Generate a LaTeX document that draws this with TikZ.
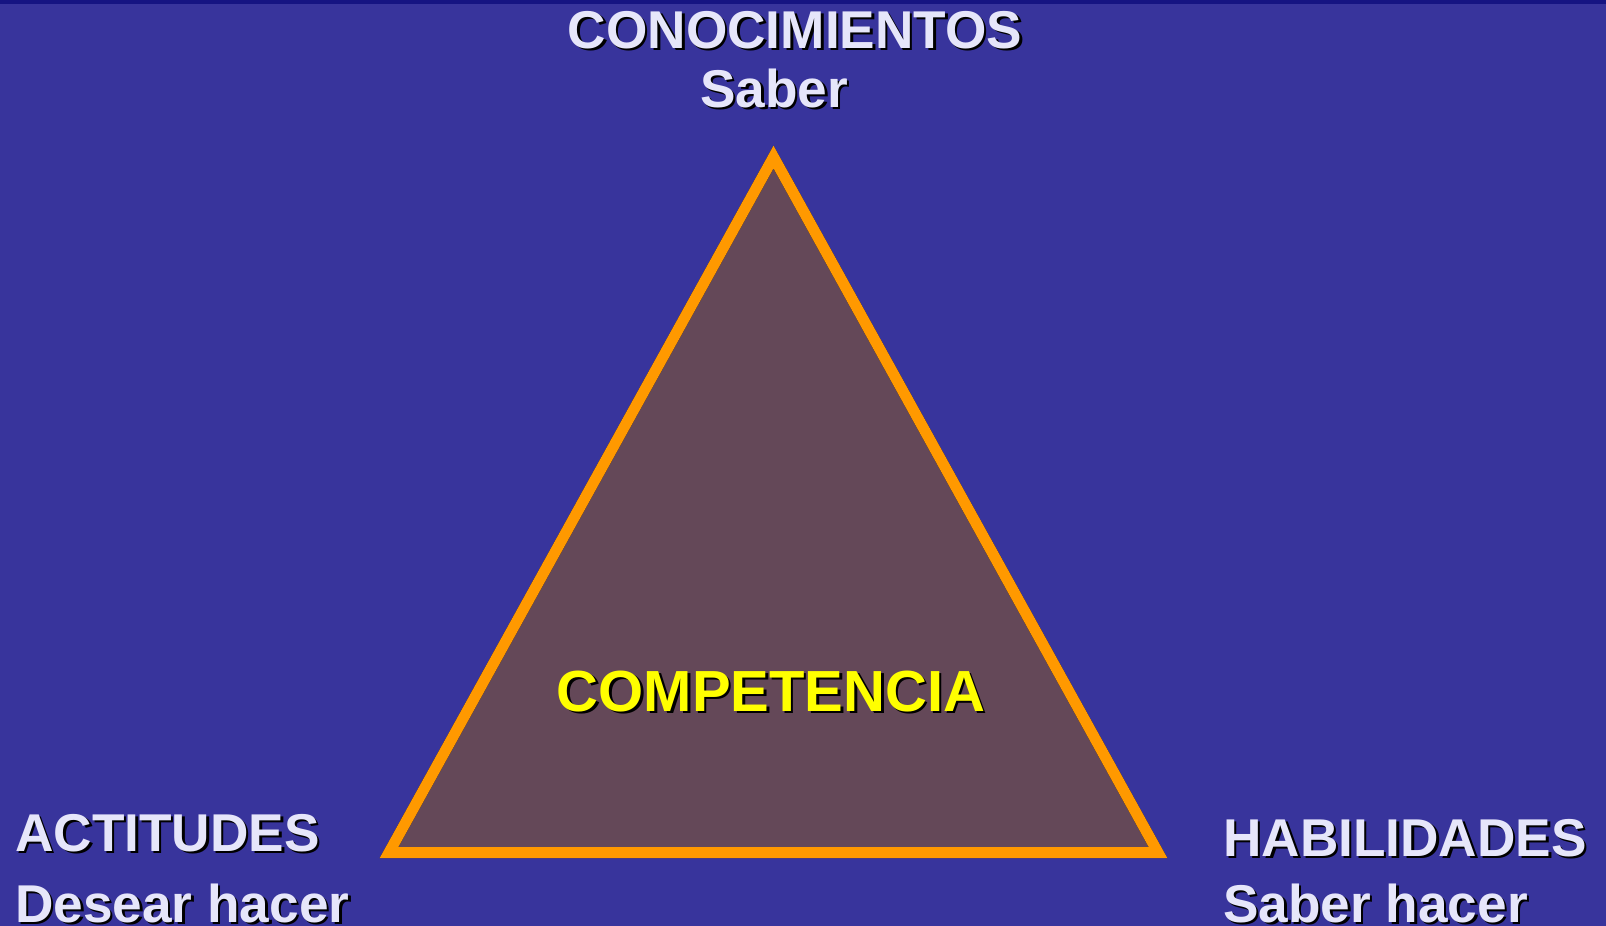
\documentclass[tikz,border=0pt]{standalone}
\usepackage{fontspec}
\setmainfont{Liberation Sans}
\definecolor{fondo}{RGB}{56,52,156}
\definecolor{borde}{RGB}{22,20,130}
\definecolor{relleno}{RGB}{100,72,88}
\definecolor{naranja}{RGB}{255,153,0}
\definecolor{lavanda}{RGB}{230,230,250}
\definecolor{amarillo}{RGB}{255,255,0}
\newcommand{\sombra}[1]{\makebox[0pt][l]{\kern2.5pt\raisebox{-2.5pt}{\color{black}#1}}#1}

\begin{document}
\begin{tikzpicture}[x=1pt, y=-1pt,
    lbl/.style={text=lavanda, font=\fontsize{53.2}{60}\selectfont\bfseries, inner sep=0pt},
    comp/.style={text=amarillo, font=\fontsize{58}{66}\selectfont\bfseries, inner sep=0pt},
    lado/.style={line width=11pt, line join=miter}]
    \fill[fondo] (0,0) rectangle (1606,926);
    \fill[borde] (0,0) rectangle (1606,4);
    \useasboundingbox (0,0) rectangle (1606,926);

    \coordinate (arriba) at (773.5,157);
    \coordinate (izq) at (389,852.5);
    \coordinate (der) at (1158,852.5);

    \fill[relleno] (arriba) -- (izq) -- (der) -- cycle;
    \draw[lado, black, opacity=0.8, shift={(3.5,3.5)}] (arriba) -- (izq) -- (der) -- cycle;
    \draw[lado, naranja] (arriba) -- (izq) -- (der) -- cycle;

    \node[lbl, anchor=base] (conoc) at (795,48) {\sombra{CONOCIMIENTOS}};
    \node[lbl, anchor=base] (saber) at (774,107) {\sombra{Saber}};
    \node[lbl, anchor=base west] (actit) at (15,851) {\sombra{ACTITUDES}};
    \node[lbl, anchor=base west] (desear) at (15,922) {\sombra{Desear hacer}};
    \node[lbl, anchor=base west] (habil) at (1223,856) {\sombra{HABILIDADES}};
    \node[lbl, anchor=base west] (saberh) at (1223,922) {\sombra{Saber hacer}};
    \node[comp, anchor=base] (compet) at (771,711) {\sombra{COMPETENCIA}};
\end{tikzpicture}
\end{document}
